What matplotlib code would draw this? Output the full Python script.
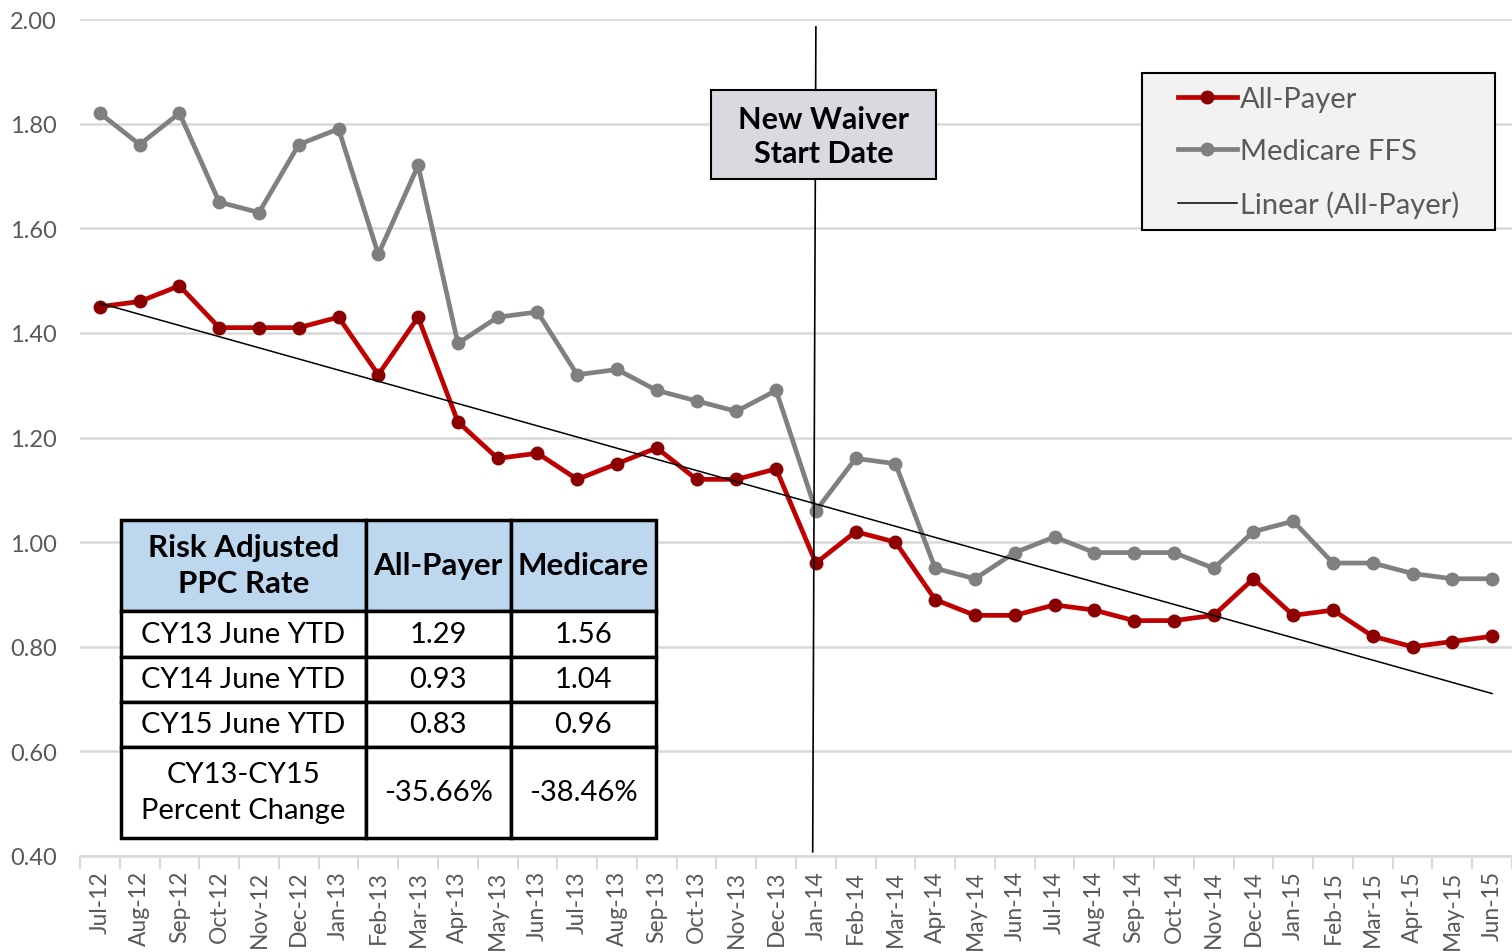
import numpy as np
import matplotlib
matplotlib.use('Agg')
from matplotlib import pyplot as plt
from matplotlib.patches import Rectangle

plt.rcParams['font.family'] = ['Lato', 'DejaVu Sans']

months = ['Jul-12', 'Aug-12', 'Sep-12', 'Oct-12', 'Nov-12', 'Dec-12',
          'Jan-13', 'Feb-13', 'Mar-13', 'Apr-13', 'May-13', 'Jun-13',
          'Jul-13', 'Aug-13', 'Sep-13', 'Oct-13', 'Nov-13', 'Dec-13',
          'Jan-14', 'Feb-14', 'Mar-14', 'Apr-14', 'May-14', 'Jun-14',
          'Jul-14', 'Aug-14', 'Sep-14', 'Oct-14', 'Nov-14', 'Dec-14',
          'Jan-15', 'Feb-15', 'Mar-15', 'Apr-15', 'May-15', 'Jun-15']
all_payer = [1.45, 1.46, 1.49, 1.41, 1.41, 1.41, 1.43, 1.32, 1.43, 1.23, 1.16, 1.17,
             1.12, 1.15, 1.18, 1.12, 1.12, 1.14, 0.96, 1.02, 1.00, 0.89, 0.86, 0.86,
             0.88, 0.87, 0.85, 0.85, 0.86, 0.93, 0.86, 0.87, 0.82, 0.80, 0.81, 0.82]
medicare = [1.82, 1.76, 1.82, 1.65, 1.63, 1.76, 1.79, 1.55, 1.72, 1.38, 1.43, 1.44,
            1.32, 1.33, 1.29, 1.27, 1.25, 1.29, 1.06, 1.16, 1.15, 0.95, 0.93, 0.98,
            1.01, 0.98, 0.98, 0.98, 0.95, 1.02, 1.04, 0.96, 0.96, 0.94, 0.93, 0.93]
waiver_month = 'Jan-14'

table_header = ['Risk Adjusted\nPPC Rate', 'All-Payer', 'Medicare']
table_rows = [['CY13 June YTD', '1.29', '1.56'],
              ['CY14 June YTD', '0.93', '1.04'],
              ['CY15 June YTD', '0.83', '0.96'],
              ['CY13-CY15\nPercent Change', '-35.66%', '-38.46%']]

W, H = 1512, 953
fig = plt.figure(figsize=(W / 100, H / 100), dpi=100)
ax = fig.add_axes([80 / W, 1 - 857 / H, 1 - 80 / W, (857 - 20) / H])

x = np.arange(len(months))
ax.plot(x, all_payer, color='#C00000', lw=3.4, marker='o', ms=9,
        mfc='#8B0000', mec='#8B0000', label='All-Payer', zorder=4)
ax.plot(x, medicare, color='#808080', lw=3.4, marker='o', ms=9,
        mfc='#7F7F7F', mec='#7F7F7F', label='Medicare FFS', zorder=3)
# linear trend of all-payer
k, b = np.polyfit(x, all_payer, 1)
ax.plot(x, k * x + b, color='black', lw=1.1, label='Linear (All-Payer)', zorder=5)

# waiver start line
wx = months.index(waiver_month)
ax.plot([wx, wx - 0.08], [1.985, 0.408], color='black', lw=1.2, zorder=6)

ax.set_xlim(-0.5, 35.4)
ax.set_ylim(0.4, 2.0)
yt = np.arange(0.4, 2.01, 0.2)
ax.set_yticks(yt)
ax.set_yticklabels(['%.2f' % v for v in yt])
ax.set_xticks(x)
ax.set_xticklabels(months, rotation=90)
ax.set_xticks(np.arange(-0.5, 36, 1), minor=True)
ax.tick_params(axis='x', which='major', length=0, pad=10, labelsize=16.5, labelcolor='#595959')
ax.tick_params(axis='x', which='minor', length=9, color='#D9D9D9', width=1.5)
ax.tick_params(axis='y', length=0, pad=16.5, labelsize=17, labelcolor='#595959')
ax.grid(axis='y', color='#D9D9D9', lw=1.8)
ax.set_axisbelow(True)
for s in ['top', 'right', 'left']:
    ax.spines[s].set_visible(False)
ax.spines['bottom'].set_color('#D9D9D9')
ax.spines['bottom'].set_linewidth(1.8)

# waiver label box
fig.patches.append(Rectangle((711 / W, 1 - 180 / H), 225 / W, 89 / H, transform=fig.transFigure,
                             facecolor='#D9D9DF', edgecolor='black', lw=1.5, zorder=10))
fig.text((711 + 936) / 2 / W, 1 - 137 / H, 'New Waiver\nStart Date', ha='center', va='center',
         fontsize=22, fontweight='bold', linespacing=1.3, zorder=11)

# legend box drawn separately (wider side padding than top/bottom)
ax.add_patch(Rectangle((1142 / W, 1 - 231 / H), 353 / W, 157 / H, transform=fig.transFigure,
                       facecolor='#F2F2F2', edgecolor='black', lw=1.5, zorder=9, clip_on=False))
leg = ax.legend(loc='center', bbox_to_anchor=((1142 + 1495) / 2 / W, 1 - 153 / H),
                bbox_transform=fig.transFigure, fontsize=21, frameon=False,
                handlelength=2.0, handletextpad=0.1, borderpad=0, labelspacing=0.9,
                borderaxespad=0)
for t in leg.get_texts():
    t.set_color('#595959')
leg.set_zorder(10)

# summary table
tx0, tx1 = 123 / W, 658 / W
ty0, ty1 = 1 - 836 / H, 1 - 518 / H
tab = ax.table(cellText=[table_header] + table_rows, cellLoc='center', bbox=[0, 0, 1, 1])
tab.remove()
tab = fig.add_artist(tab)
tab._bbox = [tx0, ty0, tx1 - tx0, ty1 - ty0]
tab.set_transform(fig.transFigure)
tab.auto_set_font_size(False)
tab.set_fontsize(21)
col_w = [245, 145, 145]
row_h = [91, 46, 45, 45, 91]
for (r, c), cell in tab.get_celld().items():
    cell.set_width(col_w[c])
    cell.set_height(row_h[r])
    cell.set_linewidth(2.5)
    cell.set_edgecolor('black')
    cell.set_facecolor('white')
    cell.get_text().set_linespacing(1.45)
    if r == 0:
        cell.set_facecolor('#BDD7EE')
        cell.get_text().set_fontweight('bold')
        cell.get_text().set_fontsize(22.5)
        cell.get_text().set_linespacing(1.35)
tab.set_zorder(12)

fig.savefig('out.png', dpi=100)
